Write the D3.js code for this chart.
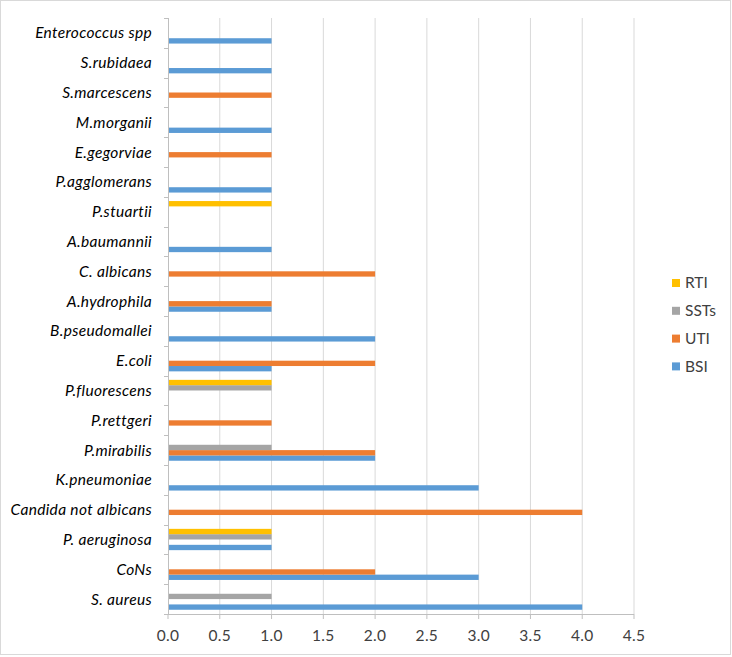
<!DOCTYPE html>
<html><head><meta charset="utf-8">
<script src="https://cdn.jsdelivr.net/npm/d3@7"></script>
<style>body{margin:0;background:#fff;}svg{display:block;font-family:Lato,"Open Sans",sans-serif;}</style>
</head><body><svg id="c" width="732" height="657"></svg>
<script>
const categories = ["S. aureus","CoNs","P. aeruginosa","Candida not albicans","K.pneumoniae","P.mirabilis","P.rettgeri","P.fluorescens","E.coli","B.pseudomallei","A.hydrophila","C. albicans","A.baumannii","P.stuartii","P.agglomerans","E.gegorviae","M.morganii","S.marcescens","S.rubidaea","Enterococcus spp"];
const seriesNames = ["BSI","UTI","SSTs","RTI"];
const BSI  = [4,3,1,0,3,2,0,0,1,2,1,0,1,0,1,0,1,0,1,1];
const UTI  = [0,2,0,4,0,2,1,0,2,0,1,2,0,0,0,1,0,1,0,0];
const SSTs = [1,0,1,0,0,1,0,1,0,0,0,0,0,0,0,0,0,0,0,0];
const RTI  = [0,0,1,0,0,0,0,1,0,0,0,0,0,1,0,0,0,0,0,0];
const xTicks = [0,0.5,1,1.5,2,2.5,3,3.5,4,4.5];
const colors = {BSI:"#5B9BD5",UTI:"#ED7D31",SSTs:"#A5A5A5",RTI:"#FFC000"};
const seriesData = {BSI,UTI,SSTs,RTI};

(function(){
const svg = d3.select("#c");
svg.append("rect").attr("x",0.5).attr("y",0.5).attr("width",730).attr("height",654)
  .attr("fill","#fff").attr("stroke","#d9d9d9");

const pL=168, pR=634, pT=18, pB=614;
const x = d3.scaleLinear().domain([0,4.5]).range([pL,pR]);
const y = d3.scaleBand().domain(categories.slice().reverse()).range([pT,pB]).paddingInner(0.285).paddingOuter(0.1425);
const yFull = d3.scaleBand().domain(categories.slice().reverse()).range([pT,pB]);
const inner = d3.scaleBand().domain(seriesNames.slice().reverse()).range([0,y.bandwidth()]);

svg.append("g").selectAll("line").data(xTicks.slice(1)).join("line")
  .attr("x1",d=>x(d)).attr("x2",d=>x(d)).attr("y1",pT).attr("y2",pB)
  .attr("stroke","#d9d9d9").attr("stroke-width",1);

seriesNames.forEach(s=>{
  svg.append("g").selectAll("rect").data(categories.map((c,i)=>({c,v:seriesData[s][i]})).filter(d=>d.v>0)).join("rect")
    .attr("x",x(0)).attr("width",d=>x(d.v)-x(0))
    .attr("y",d=>y(d.c)+inner(s)).attr("height",inner.bandwidth())
    .attr("fill",colors[s]);
});

const ga = svg.append("g").attr("stroke","#bfbfbf").attr("stroke-width",1);
ga.append("line").attr("x1",pL+0.5).attr("x2",pL+0.5).attr("y1",pT).attr("y2",pB);
const bounds = categories.map(c=>yFull(c)).concat([pB]);
ga.selectAll(".yt").data(bounds).join("line").attr("class","yt")
  .attr("x1",pL-4).attr("x2",pL).attr("y1",d=>Math.round(d)+0.5).attr("y2",d=>Math.round(d)+0.5);
ga.append("line").attr("x1",pL).attr("x2",pR).attr("y1",pB+0.5).attr("y2",pB+0.5);
ga.selectAll(".xt").data(xTicks).join("line").attr("class","xt")
  .attr("x1",d=>x(d)).attr("x2",d=>x(d)).attr("y1",pB).attr("y2",pB+5);

svg.append("g").selectAll("text").data(xTicks).join("text")
  .attr("x",d=>x(d)).attr("y",641).attr("text-anchor","middle")
  .attr("font-size",15.5).attr("letter-spacing",0.3).attr("fill","#404040").text(d=>d.toFixed(1));

svg.append("g").selectAll("text").data(categories).join("text")
  .attr("x",152).attr("y",d=>yFull(d)+yFull.bandwidth()/2).attr("dy","0.35em")
  .attr("text-anchor","end").attr("font-size",15.5).attr("letter-spacing",0.33).attr("font-style","italic")
  .attr("fill","#000").text(d=>d);

const legendOrder = ["RTI","SSTs","UTI","BSI"];
const lg = svg.append("g").selectAll("g").data(legendOrder).join("g")
  .attr("transform",(d,i)=>`translate(672,${283+i*27.8})`);
lg.append("rect").attr("x",0).attr("y",-4).attr("width",8).attr("height",8).attr("fill",d=>colors[d]);
lg.append("text").attr("x",13).attr("y",0).attr("dy","0.35em").attr("font-size",15.5)
  .attr("fill","#404040").text(d=>d);
})();
</script></body></html>
